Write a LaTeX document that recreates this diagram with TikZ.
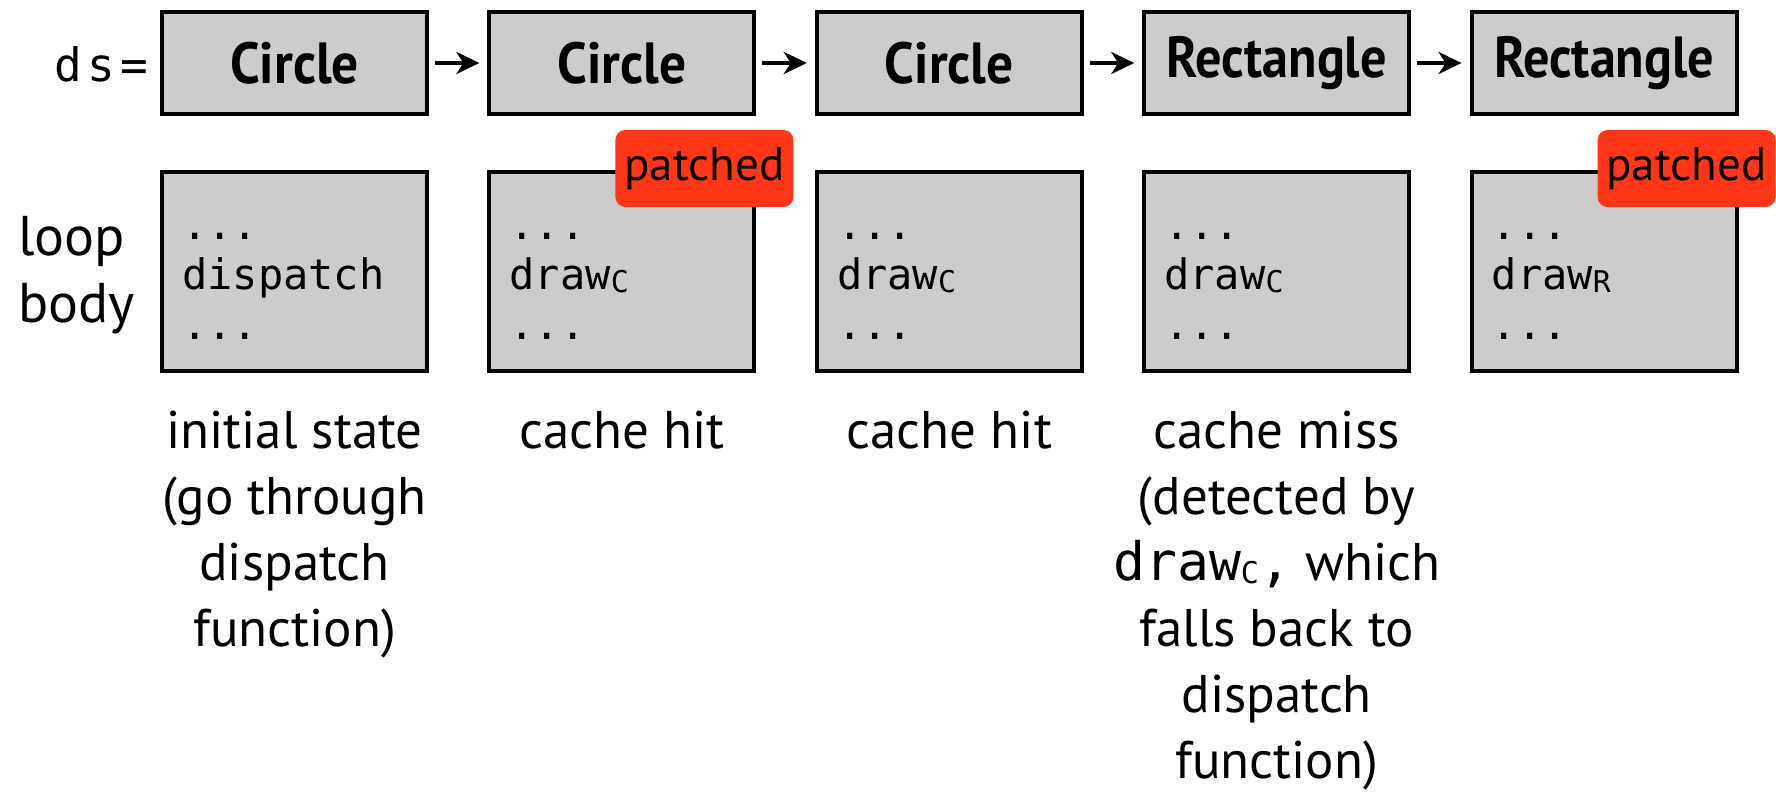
\documentclass[tikz,border=0pt]{standalone}
\usepackage{fontspec}
\setmainfont{PT Sans}
\setmonofont{DejaVu Sans Mono}
\usetikzlibrary{arrows.meta,calc}
\definecolor{boxgray}{RGB}{204,204,204}
\definecolor{patchred}{RGB}{255,54,24}
\newcommand\mysub[1]{\raisebox{-3pt}{\fontsize{30}{30}\selectfont #1}}
\tikzset{
  statebox/.style={draw=black, line width=4pt, fill=boxgray, minimum width=265pt, minimum height=102pt, inner sep=0pt, font=\bfseries\fontsize{58}{58}\selectfont},
  bodybox/.style={draw=black, line width=4pt, fill=boxgray, minimum width=265pt, minimum height=199pt, inner sep=0pt},
  codetext/.style={inner sep=0pt, align=left, font=\ttfamily\fontsize{42}{50}\selectfont},
  caption/.style={inner sep=0pt, align=center, font=\fontsize{53}{66}\selectfont},
  badge/.style={fill=patchred, rounded corners=10pt, minimum width=178pt, minimum height=77pt, inner sep=0pt, font=\fontsize{47}{47}\selectfont},
  flow/.style={line width=4pt, -{Stealth[length=23pt,width=22pt,inset=7pt]}, shorten <=6pt, shorten >=8pt}
}
\begin{document}
\begin{tikzpicture}[x=1pt,y=-1pt]
\useasboundingbox (0,0) rectangle (1776,794);
% top row
\node[statebox] (s1) at (294.5,63) {\scalebox{0.92}[1]{Circle}};
\node[statebox] (s2) at (621.9,63) {\scalebox{0.92}[1]{Circle}};
\node[statebox] (s3) at (949.3,63) {\scalebox{0.92}[1]{Circle}};
\node[statebox] (s4) at (1276.7,63) {\scalebox{0.9}[1]{Rectangle}};
\node[statebox] (s5) at (1604.1,63) {\scalebox{0.9}[1]{Rectangle}};
\draw[flow] (s1) -- (s2);
\draw[flow] (s2) -- (s3);
\draw[flow] (s3) -- (s4);
\draw[flow] (s4) -- (s5);
% labels (base anchor = last line's baseline)
\node[inner sep=0pt, anchor=base east, font=\ttfamily\fontsize{46}{46}\selectfont] (ds) at (148,82) {d\kern5pt s\kern5pt=};
\node[inner sep=0pt, anchor=base west, align=left, font=\fontsize{56}{67}\selectfont] (lb) at (18,322) {loop\\body};
% bodies
\node[bodybox] (b1) at (294.5,271.5) {};
\node[bodybox] (b2) at (621.9,271.5) {};
\node[bodybox] (b3) at (949.3,271.5) {};
\node[bodybox] (b4) at (1276.7,271.5) {};
\node[bodybox] (b5) at (1604.1,271.5) {};
\node[codetext, anchor=base west] (c1) at ($(b1.west)+(22,67.5)$) {...\\dispatch\\...};
\node[codetext, anchor=base west] (c2) at ($(b2.west)+(22,67.5)$) {...\\draw\mysub{C}\\...};
\node[codetext, anchor=base west] (c3) at ($(b3.west)+(22,67.5)$) {...\\draw\mysub{C}\\...};
\node[codetext, anchor=base west] (c4) at ($(b4.west)+(22,67.5)$) {...\\draw\mysub{C}\\...};
\node[codetext, anchor=base west] (c5) at ($(b5.west)+(22,67.5)$) {...\\draw\mysub{R}\\...};
% badges
\node[badge] (p2) at ($(b2.north east)+(-52,-1.5)$) {patched};
\node[badge] (p5) at ($(b5.north east)+(-52,-1.5)$) {patched};
% captions
\node[caption, anchor=base] (t1) at (294.5,646) {initial state\\(go through\\dispatch\\function)};
\node[caption, anchor=base] (t2) at (621.9,448) {cache hit};
\node[caption, anchor=base] (t3) at (949.3,448) {cache hit};
\node[caption, anchor=base] (t4) at (1276.7,778) {cache miss\\(detected by\\{\ttfamily draw\mysub{C},} which\\falls back to\\dispatch\\function)};
\end{tikzpicture}
\end{document}
